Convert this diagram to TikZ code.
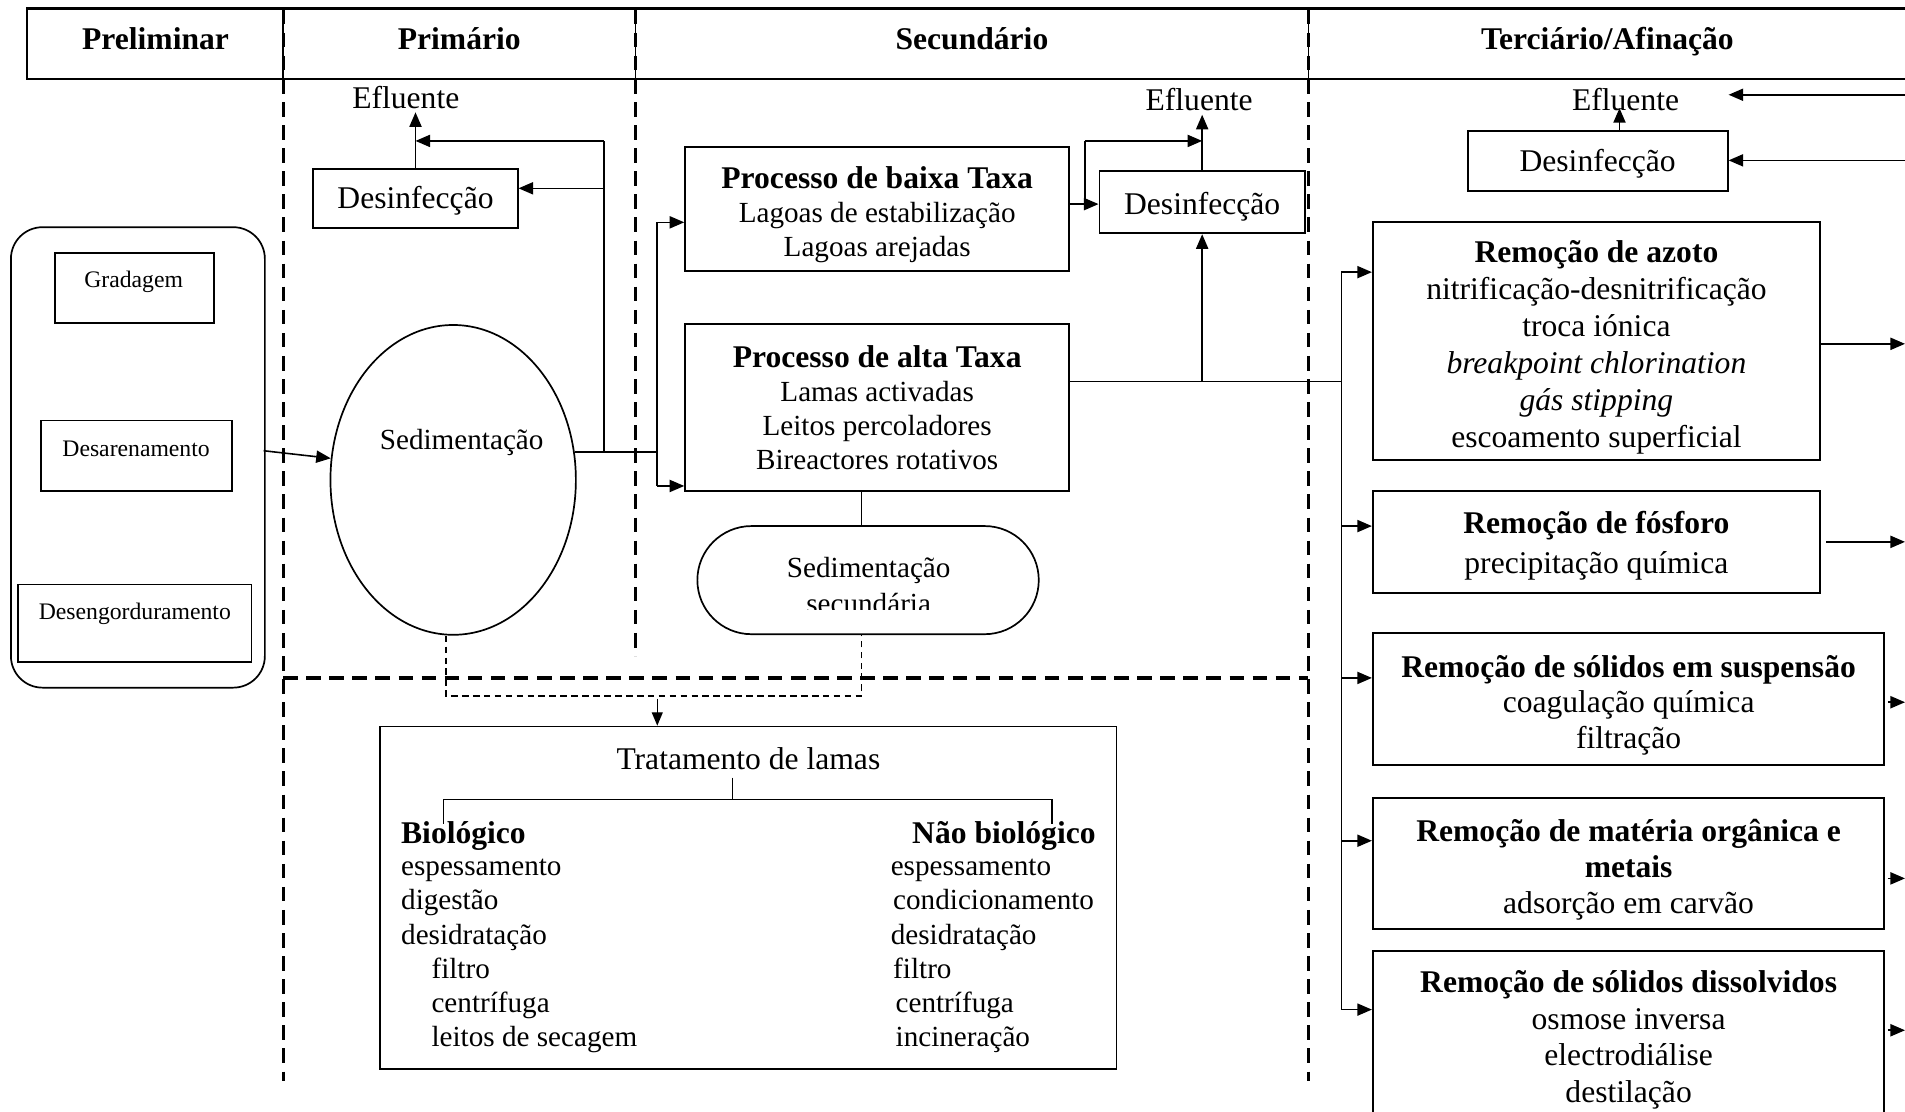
\documentclass[tikz,border=0pt]{standalone}
\usepackage{fontspec}
\setmainfont{Liberation Serif}
\usetikzlibrary{arrows.meta,shapes.geometric,shapes.misc}
\begin{document}
\begin{tikzpicture}[x=1pt,y=-1pt,
  tri/.style={-{Triangle[length=12pt,width=10pt]}},
  ln/.style={line width=1.3pt},
  box/.style={draw, line width=1.6pt, inner sep=0pt},
  bt/.style={inner sep=0pt, align=center, font=\fontsize{26}{28}\selectfont},
  t/.style={inner sep=0pt, font=\fontsize{26}{28}\selectfont},
  ts/.style={inner sep=0pt, font=\fontsize{24}{28}\selectfont},
  hdr/.style={inner sep=0pt, font=\fontsize{26}{28}\selectfont\bfseries},
  sm/.style={inner sep=0pt, anchor=base, font=\fontsize{19.5}{22}\selectfont},
  pbox/.style={draw, line width=1.4pt, inner sep=0pt},
  sep/.style={line width=2.6pt, dash pattern=on 12pt off 7pt},
  sludge/.style={line width=1.1pt, dash pattern=on 5.5pt off 3.5pt},
]
\useasboundingbox (0,0) rectangle (1568,915);
\clip (0,0) rectangle (1568,915);
\fill[white] (0,0) rectangle (1568,915);

% header
\draw[line width=1.8pt] (1572,7) -- (22,7) -- (22,65) -- (1572,65);
\foreach \x in {233,523,1077} \draw[line width=1.2pt] (\x,7) -- (\x,65);
\node[hdr, anchor=base] (hpre) at (128,41) {Preliminar};
\node[hdr, anchor=base] (hpri) at (378,41) {Primário};
\node[hdr, anchor=base] (hsec) at (800,41) {Secundário};
\node[hdr, anchor=base] (hter) at (1323,41) {Terciário/Afinação};

% separators
\draw[sep] (233,8) -- (233,890);
\draw[sep] (523,8) -- (523,540);
\draw[sep] (1077,8) -- (1077,890);
\draw[sep] (233,558) -- (1077,558);

% preliminary
\node[pbox, rounded corners=26pt, minimum width=209pt, minimum height=379pt] (prel) at (113.5,376.5) {};
\node[pbox, minimum width=131pt, minimum height=58pt] (grad) at (110.5,237) {};
\node[sm] (gradt) at (110,236.5) {Gradagem};
\node[pbox, minimum width=157pt, minimum height=58pt] (desa) at (112.5,375) {};
\node[sm] (desat) at (112,375.5) {Desarenamento};
\node[pbox, minimum width=192pt, minimum height=64pt] (deng) at (111,513) {};
\node[sm] (dengt) at (111,509.5) {Desengorduramento};

% primary
\node[draw, ellipse, line width=1.4pt, minimum width=202pt, minimum height=255pt, inner sep=0pt] (sed) at (373,395) {};
\node[ts, anchor=base] (sedt) at (380,370) {Sedimentação};
\coordinate (pa) at (217,371);
\draw[ln,tri] (pa) -- (sed.170);
\coordinate (j0) at (497,372);
\coordinate (j1) at (541,372);
\draw[ln] (sed.13) -- (sed.13 -| j1);
\node[box, minimum width=168pt, minimum height=49pt] (des1) at (342,163.5) {};
\node[bt, yshift=-2pt] (des1t) at (des1) {Desinfecção};
\coordinate (b1) at (497,116);
\coordinate (b2) at (497,155);
\draw[ln] (j0) -- (b1);
\draw[ln,tri] (b1) -- (b1 -| des1.north);
\draw[ln,tri] (b2) -- (b2 -| des1.east);
\node[t, inner sep=3pt, anchor=base] (ef1) at (334,89) {Efluente};
\draw[ln,tri] (des1.north) -- (des1.north |- ef1.south);

% secondary
\node[box, minimum width=316pt, minimum height=102pt] (baixa) at (722,172) {};
\node[bt, yshift=-5pt, font=\fontsize{24}{28}\selectfont] (baixat) at (baixa) {{\fontsize{26}{28}\selectfont\bfseries Processo de baixa Taxa}\\Lagoas de estabilização\\Lagoas arejadas};
\node[box, minimum width=316pt, minimum height=137pt] (alta) at (722,335.5) {};
\node[bt, yshift=0pt, font=\fontsize{24}{28}\selectfont] (altat) at (alta) {{\fontsize{26}{28}\selectfont\bfseries Processo de alta Taxa}\\Lamas activadas\\Leitos percoladores\\Bireactores rotativos};
\coordinate (ya) at (541,183);
\coordinate (yb) at (541,400);
\draw[ln] (ya) -- (yb);
\draw[ln,tri] (ya) -- (ya -| baixa.west);
\draw[ln,tri] (yb) -- (yb -| alta.west);

\node[box, minimum width=169pt, minimum height=51pt] (des2) at (989.5,166.5) {};
\node[bt, yshift=-4pt] (des2t) at (des2) {Desinfecção};
\coordinate (c1) at (893,168);
\coordinate (c2) at (893,116);
\draw[ln,tri] (baixa.east |- c1) -- (c1 -| des2.west);
\draw[ln] (c1) -- (c2);
\draw[ln,tri] (c2) -- (c2 -| des2.north);
\node[t, inner sep=3pt, anchor=base] (ef2) at (987,91) {Efluente};
\draw[ln,tri] (des2.north) -- (des2.north |- ef2.south);

\coordinate (d1) at (1104,314);
\coordinate (d0) at (989.5,314);
\draw[ln] (alta.east |- d1) -- (d1);
\draw[ln,tri] (d0) -- (des2.south);

\node[draw, rounded rectangle, line width=1.4pt, minimum width=281pt, minimum height=89pt, inner sep=0pt] (sst) at (714.5,477.5) {};
\coordinate (sx) at (709,0);
\draw[ln] (alta.south -| sx) -- (sst.north -| sx);
\begin{scope}
\clip (574,440) rectangle (855,502);
\node[ts, anchor=base] (sst1) at (715,475) {Sedimentação};
\node[ts, anchor=base] (sst2) at (715,505) {secundária};
\end{scope}

% sludge
\node[box, line width=1.4pt, minimum width=606pt, minimum height=282pt] (trat) at (616,739) {};
\coordinate (s1) at (367,573);
\coordinate (s2) at (709,573);
\coordinate (s3) at (541,575);
\draw[sludge] (sed.south -| s1) -- (s1) -- (s2) -- (sst.south -| s2);
\draw[line width=1.1pt, -{Triangle[length=11pt,width=9pt]}] (s3) -- (s3 |- trat.north);
\node[t, anchor=base] (tt) at (616,633) {Tratamento de lamas};
\coordinate (k0) at (603,640);
\coordinate (k1) at (603,658);
\coordinate (kl) at (365,678);
\coordinate (kr) at (866,678);
\draw[line width=1.1pt] (k0) -- (k1);
\draw[line width=1.1pt] (kl) -- (kl |- k1) -- (kr |- k1) -- (kr);
\node[hdr, anchor=base west] (bio) at (330,694) {Biológico};
\node[hdr, anchor=base east] (nbio) at (902,694) {Não biológico};
\foreach \x/\s [count=\i] in {330/espessamento, 330/digestão, 330/desidratação, 355/filtro, 355/centrífuga, 355/leitos de secagem}
  \node[ts, anchor=base west] (lt\i) at (\x, 693+28*\i) {\s};
\foreach \x/\s [count=\i] in {733/espessamento, 735/condicionamento, 733/desidratação, 735/filtro, 737/centrífuga, 737/incineração}
  \node[ts, anchor=base west] (rt\i) at (\x, 693+28*\i) {\s};

% tertiary
\node[box, minimum width=214pt, minimum height=49pt] (des3) at (1315,132.5) {};
\node[bt, yshift=-2pt] (des3t) at (des3) {Desinfecção};
\coordinate (u1) at (1333,108);
\coordinate (u2) at (1333,89);
\draw[ln,tri] (u1) -- (u2);
\node[t, anchor=base] (ef3) at (1338,91) {Efluente};
\coordinate (q1) at (1568,78);
\coordinate (q2) at (1568,132);
\draw[ln,tri] (q1) -- (q1 -| des3.east);
\draw[ln,tri] (q2) -- (q2 -| des3.east);

\node[box, minimum width=368pt, minimum height=196pt] (az) at (1314,281) {};
\node[bt, yshift=-5pt, font=\fontsize{26}{30.5}\selectfont] (azt) at (az) {\textbf{Remoção de azoto}\\nitrificação-desnitrificação\\troca iónica\\\textit{breakpoint chlorination}\\\textit{gás stipping}\\escoamento superficial};
\node[box, minimum width=368pt, minimum height=84pt] (fo) at (1314,446) {};
\node[bt, yshift=-3pt] (fot) at (fo) {\textbf{Remoção de fósforo}\\[5pt]precipitação química};
\node[box, minimum width=421pt, minimum height=109pt] (ss) at (1340.5,575.5) {};
\node[bt, yshift=-5pt, font=\fontsize{26}{29.5}\selectfont] (sst3) at (ss) {\textbf{Remoção de sólidos em suspensão}\\coagulação química\\filtração};
\node[box, minimum width=421pt, minimum height=108pt] (mo) at (1340.5,711) {};
\node[bt, yshift=-5pt, font=\fontsize{26}{29.5}\selectfont] (mot) at (mo) {\textbf{Remoção de matéria orgânica e}\\\textbf{metais}\\adsorção em carvão};
\node[box, minimum width=421pt, minimum height=140pt] (sd) at (1340.5,853) {};
\node[bt, yshift=-3pt, font=\fontsize{26}{30}\selectfont] (sdt) at (sd) {\textbf{Remoção de sólidos dissolvidos}\\osmose inversa\\electrodiálise\\destilação};

\coordinate (bt) at (1104,224);
\coordinate (bb) at (1104,831);
\draw[ln] (bt) -- (bb);
\foreach \n/\y in {az/224, fo/433, ss/558, mo/692, sd/831} {
  \coordinate (e\n) at (1104,\y);
  \draw[ln,tri] (e\n) -- (e\n -| \n.west);
}
\coordinate (o1) at (1568,283);
\draw[ln,tri] (az.east |- o1) -- (o1);
\coordinate (o2s) at (1503,446);
\coordinate (o2) at (1568,446);
\draw[ln,tri] (o2s) -- (o2);
\foreach \n/\y in {ss/578, mo/723, sd/848} {
  \coordinate (f\n) at (1568,\y);
  \draw[ln,tri] ([xshift=2pt]\n.east |- f\n) -- (f\n);
}
\end{tikzpicture}
\end{document}
